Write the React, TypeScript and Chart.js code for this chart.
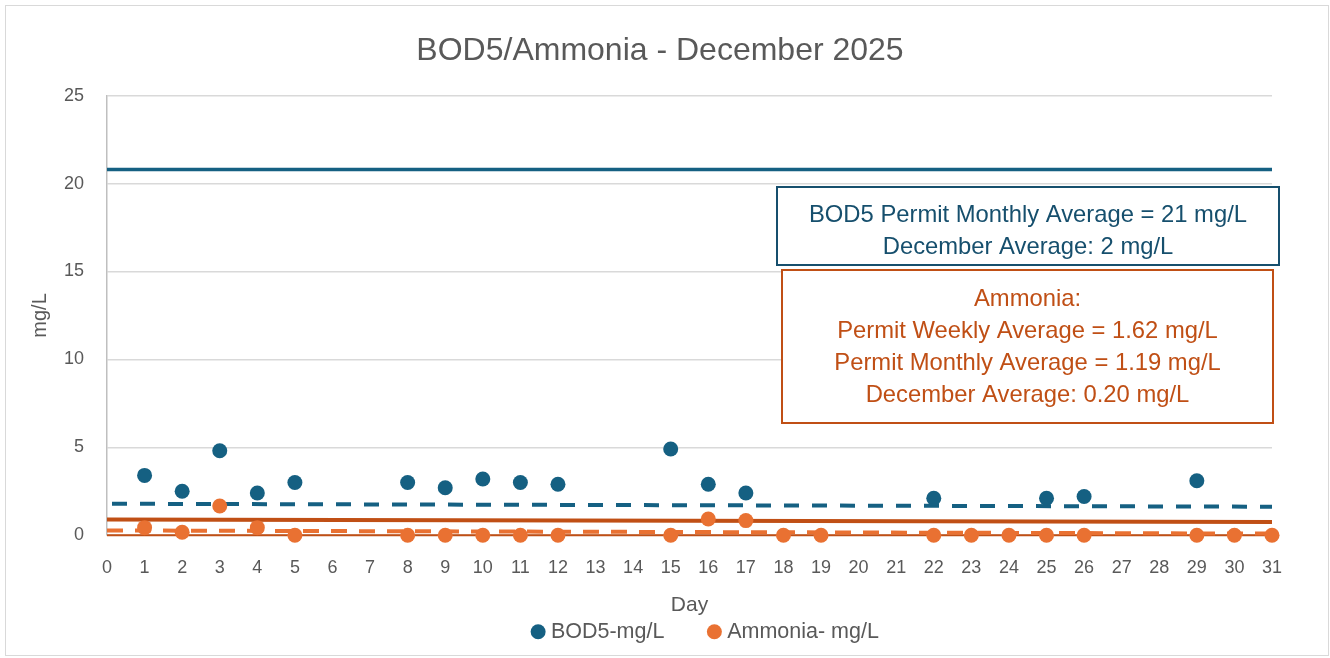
import React, { useEffect, useRef } from "react";
import { Chart, registerables } from "chart.js";

Chart.register(...registerables);

// ---- Data ----
const bod5Days = [1, 2, 3, 4, 5, 8, 9, 10, 11, 12, 15, 16, 17, 22, 25, 26, 29];
const bod5Values = [3.4, 2.5, 4.8, 2.4, 3.0, 3.0, 2.7, 3.2, 3.0, 2.9, 4.9, 2.9, 2.4, 2.1, 2.1, 2.2, 3.1];
const ammoniaDays = [1, 2, 3, 4, 5, 8, 9, 10, 11, 12, 15, 16, 17, 18, 19, 22, 23, 24, 25, 26, 29, 30, 31];
const ammoniaValues = [0.43, 0.17, 1.66, 0.43, 0, 0, 0, 0, 0, 0, 0, 0.92, 0.83, 0, 0, 0, 0, 0, 0, 0, 0, 0, 0];

const lineEndDays = [0, 31];
const bod5PermitLine = [20.8, 20.8];
const bod5TrendLine = [1.79, 1.62];
const ammoniaLevelLine = [0.89, 0.75];
const ammoniaTrendLine = [0.27, 0.09];
const baseLine = [0, 0];

const xMin = 0;
const xMax = 31;
const yMin = 0;
const yMax = 25;
const yStep = 5;

const titleText = "BOD5/Ammonia - December 2025";
const xTitle = "Day";
const yTitle = "mg/L";
const bod5Label = "BOD5-mg/L";
const ammoniaLabel = "Ammonia- mg/L";
const bodBoxLines = ["BOD5 Permit Monthly Average = 21 mg/L", "December Average: 2 mg/L"];
const ammoniaBoxLines = [
  "Ammonia:",
  "Permit Weekly Average = 1.62 mg/L",
  "Permit Monthly Average = 1.19 mg/L",
  "December Average: 0.20 mg/L",
];

// ---- Styles ----
const BLUE = "#156082";
const ORANGE = "#E97132";
const DARK_ORANGE = "#C04F15";
const BOX_BLUE = "#164F6D";
const GRAY_TEXT = "#595959";
const GRID = "#D9D9D9";
const FONT = "'Liberation Sans', Arial, sans-serif";

const toPoints = (xs: number[], ys: number[]) => xs.map((x, i) => ({ x, y: ys[i] }));

const textBoxesPlugin = {
  id: "textBoxes",
  afterDraw(chart: any) {
    const ctx: CanvasRenderingContext2D = chart.ctx;
    ctx.save();
    // BOD5 box
    ctx.fillStyle = "#FFFFFF";
    ctx.fillRect(777, 187, 502, 78);
    ctx.strokeStyle = BOX_BLUE;
    ctx.lineWidth = 2;
    ctx.strokeRect(777, 187, 502, 78);
    ctx.font = `23.8px ${FONT}`;
    ctx.textAlign = "center";
    ctx.textBaseline = "alphabetic";
    ctx.fillStyle = BOX_BLUE;
    bodBoxLines.forEach((t, i) => ctx.fillText(t, 1028, 222 + i * 32));
    // Ammonia box
    ctx.fillStyle = "#FFFFFF";
    ctx.fillRect(782, 270, 491, 153);
    ctx.strokeStyle = DARK_ORANGE;
    ctx.strokeRect(782, 270, 491, 153);
    ctx.fillStyle = DARK_ORANGE;
    ammoniaBoxLines.forEach((t, i) => ctx.fillText(t, 1027.5, 306 + i * 32));
    ctx.restore();
  },
};

// shifts the title and legend blocks horizontally to their places in the original
const blockOffsetsPlugin = {
  id: "blockOffsets",
  afterLayout(chart: any) {
    const tb = chart.titleBlock;
    if (tb) {
      tb.left += 24;
      tb.right += 24;
    }
    const lg = chart.legend;
    if (lg) {
      lg.left += 18;
      lg.right += 18;
    }
  },
};

export default function App() {
  const ref = useRef<HTMLCanvasElement>(null);

  useEffect(() => {
    const canvas = ref.current!;
    const lineBase = {
      type: "line" as const,
      pointRadius: 0,
      pointHoverRadius: 0,
      fill: false,
      borderCapStyle: "butt" as const,
      clip: false as any,
      tension: 0,
    };
    const chart = new Chart(canvas, {
      type: "line",
      data: {
        datasets: [
          {
            label: bod5Label,
            data: toPoints(bod5Days, bod5Values),
            showLine: false,
            pointRadius: 7.5,
            pointHoverRadius: 7.5,
            pointBorderWidth: 0,
            borderWidth: 0,
            backgroundColor: BLUE,
            borderColor: BLUE,
            pointBackgroundColor: BLUE,
            clip: false as any,
            order: 1,
          },
          {
            label: ammoniaLabel,
            data: toPoints(ammoniaDays, ammoniaValues),
            showLine: false,
            pointRadius: 7.5,
            pointHoverRadius: 7.5,
            pointBorderWidth: 0,
            borderWidth: 0,
            backgroundColor: ORANGE,
            borderColor: ORANGE,
            pointBackgroundColor: ORANGE,
            clip: false as any,
            order: 0,
          },
          {
            ...lineBase,
            label: "BOD5 Permit",
            data: toPoints(lineEndDays, bod5PermitLine),
            borderColor: BLUE,
            borderWidth: 3.5,
            order: 6,
          },
          {
            ...lineBase,
            label: "BOD5 Trend",
            data: toPoints(lineEndDays, bod5TrendLine),
            borderColor: BLUE,
            borderWidth: 4,
            borderDash: [15, 13],
            borderDashOffset: 23,
            order: 5,
          },
          {
            ...lineBase,
            label: "Ammonia Level",
            data: toPoints(lineEndDays, ammoniaLevelLine),
            borderColor: DARK_ORANGE,
            borderWidth: 4,
            order: 4,
          },
          {
            ...lineBase,
            label: "Ammonia Base",
            data: toPoints(lineEndDays, baseLine),
            borderColor: DARK_ORANGE,
            borderWidth: 2,
            order: 3,
          },
          {
            ...lineBase,
            label: "Ammonia Trend",
            data: toPoints(lineEndDays, ammoniaTrendLine),
            borderColor: ORANGE,
            borderWidth: 4,
            borderDash: [16, 12],
            order: 2,
          },
        ] as any,
      },
      options: {
        responsive: false,
        animation: false,
        events: [],
        layout: { padding: { left: 0, right: 58, top: 0, bottom: 5.5 } },
        plugins: {
          tooltip: { enabled: false },
          title: {
            display: true,
            text: titleText,
            color: GRAY_TEXT,
            font: { family: FONT, size: 32, weight: "normal" as any },
            padding: { top: 32.4, bottom: 24.9 },
          },
          legend: {
            position: "bottom",
            fullSize: false,
            labels: {
              usePointStyle: true,
              pointStyle: "circle",
              boxWidth: 4,
              boxHeight: 10.6,
              padding: 48,
              color: GRAY_TEXT,
              font: { family: FONT, size: 21.5 },
              filter: (item: any) => item.datasetIndex < 2,
              sort: (a: any, b: any) => a.datasetIndex - b.datasetIndex,
            },
          },
        },
        scales: {
          x: {
            type: "linear",
            min: xMin,
            max: xMax,
            ticks: {
              stepSize: 1,
              autoSkip: false,
              maxTicksLimit: 100,
              maxRotation: 0,
              padding: 22.5,
              color: GRAY_TEXT,
              font: { family: FONT, size: 18 },
            },
            grid: { display: false, drawTicks: false },
            border: { display: false },
            title: {
              display: true,
              text: xTitle,
              color: GRAY_TEXT,
              font: { family: FONT, size: 21 },
              padding: { top: 0, bottom: -45 },
            },
            afterFit: (s: any) => {
              s.height = 37.8;
            },
          },
          y: {
            min: yMin,
            max: yMax,
            ticks: {
              stepSize: yStep,
              padding: 23,
              color: GRAY_TEXT,
              font: { family: FONT, size: 18 },
            },
            grid: { color: GRID, lineWidth: 1.5, drawTicks: false },
            border: { display: true, color: "#BFBFBF", width: 1.5 },
            title: {
              display: true,
              text: yTitle,
              color: GRAY_TEXT,
              font: { family: FONT, size: 20 },
              padding: { top: 28, bottom: 0 },
            },
            afterFit: (s: any) => {
              s.width = 107;
            },
          },
        },
      } as any,
      plugins: [textBoxesPlugin, blockOffsetsPlugin],
    });
    return () => chart.destroy();
  }, []);

  return (
    <div
      style={{
        position: "fixed",
        left: 0,
        top: 0,
        width: 1330,
        height: 658,
        background: "#FFFFFF",
        overflow: "hidden",
      }}
    >
      <div
        style={{
          position: "absolute",
          left: 5,
          top: 5,
          width: 1324,
          height: 651,
          boxSizing: "border-box",
          border: "1.5px solid #D9D9D9",
        }}
      />
      <canvas
        ref={ref}
        width={1330}
        height={658}
        style={{ position: "absolute", left: 0, top: 0, width: 1330, height: 658 }}
      />
    </div>
  );
}
